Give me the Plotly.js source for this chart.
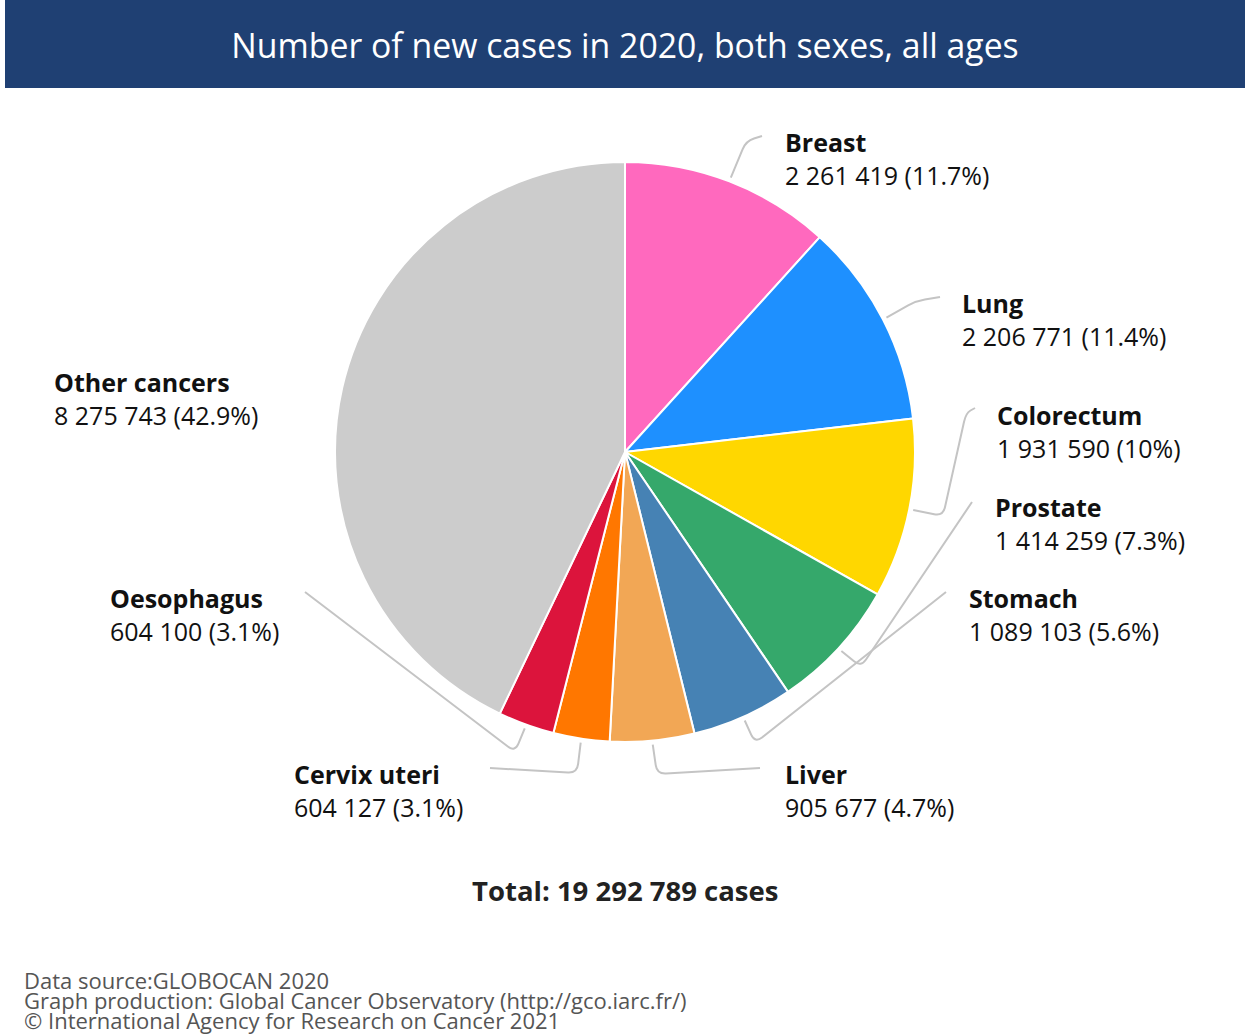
<!DOCTYPE html>
<html>
<head>
<meta charset="utf-8">
<script src="https://cdn.plot.ly/plotly-3.0.1.min.js"></script>
<style>
  html, body { margin: 0; padding: 0; background: #ffffff; }
  #chart { width: 1245px; height: 1036px; }
</style>
</head>
<body>
<div id="chart"></div>
<script>
// ---- Data ----
const labels = ['Breast', 'Lung', 'Colorectum', 'Prostate', 'Stomach', 'Liver', 'Cervix uteri', 'Oesophagus', 'Other cancers'];
const values = [2261419, 2206771, 1931590, 1414259, 1089103, 905677, 604127, 604100, 8275743];
const colors = ['#FF69BE', '#1E90FF', '#FFD700', '#35A86B', '#4682B4', '#F2A755', '#FF7700', '#DC143C', '#CCCCCC'];
const titleText = 'Number of new cases in 2020, both sexes, all ages';
const footerLines = [
  'Data source:GLOBOCAN 2020',
  'Graph production: Global Cancer Observatory (http://gco.iarc.fr/)',
  '\u00A9 International Agency for Research on Cancer 2021'
];

// ---- Layout geometry (pixels) ----
const W = 1245, H = 1036;
const CX = 625, CY = 452, R = 290;
const FONT = '"Open Sans", "Noto Sans", "DejaVu Sans", sans-serif';

// label block positions: [left x, center y] in px
const labelPos = [
  [785, 158], [962, 319], [997, 431], [995, 523], [969, 614],
  [785, 790], [294, 790], [110, 614], [54, 399]
];
// leader waypoints after the computed start point (px); null = no leader
const leaderPts = [
  [[746, 141], [762, 136]],
  [[916, 301], [940, 297]],
  [[943, 516], [966, 413], [975, 408]],
  [[861, 667], [972, 502]],
  [[755, 743], [946, 592]],
  [[657, 774], [760, 768]],
  [[577, 773], [490, 768]],
  [[515, 752], [305, 592]],
  null
];
const footerY = [980, 1000, 1020];

const px = x => x / W;
const py = y => 1 - y / H;
const total = values.reduce((a, b) => a + b, 0);
const fmt = v => String(v).replace(/\B(?=(\d{3})+(?!\d))/g, ' ');
const pct = v => String(parseFloat((100 * v / total).toFixed(1)));

function roundedPath(pts, r) {
  let d = 'M ' + px(pts[0][0]) + ',' + py(pts[0][1]);
  for (let i = 1; i < pts.length; i++) {
    const p = pts[i];
    if (i < pts.length - 1) {
      const a = pts[i - 1], b = pts[i + 1];
      const l1 = Math.hypot(p[0] - a[0], p[1] - a[1]);
      const l2 = Math.hypot(b[0] - p[0], b[1] - p[1]);
      const r1 = Math.min(r, l1 / 2), r2 = Math.min(r, l2 / 2);
      const s = [p[0] - (p[0] - a[0]) * r1 / l1, p[1] - (p[1] - a[1]) * r1 / l1];
      const e = [p[0] + (b[0] - p[0]) * r2 / l2, p[1] + (b[1] - p[1]) * r2 / l2];
      d += ' L ' + px(s[0]) + ',' + py(s[1]);
      d += ' Q ' + px(p[0]) + ',' + py(p[1]) + ' ' + px(e[0]) + ',' + py(e[1]);
    } else {
      d += ' L ' + px(p[0]) + ',' + py(p[1]);
    }
  }
  return d;
}

const shapes = [{
  type: 'rect', xref: 'paper', yref: 'paper', layer: 'below',
  x0: px(5), x1: px(1245), y0: py(0), y1: py(88),
  fillcolor: '#1F4073', line: { width: 0 }
}];
const annotations = [];

let cum = 0;
values.forEach((v, i) => {
  const theta = 2 * Math.PI * (cum + v / 2) / total;
  cum += v;
  if (leaderPts[i]) {
    const start = [CX + (R + 4) * Math.sin(theta), CY - (R + 4) * Math.cos(theta)];
    shapes.push({
      type: 'path', xref: 'paper', yref: 'paper', layer: 'below',
      path: roundedPath([start].concat(leaderPts[i]), 9),
      line: { color: '#C4C4C4', width: 2 }
    });
  }
  annotations.push({
    xref: 'paper', yref: 'paper', x: px(labelPos[i][0] - 2), y: py(labelPos[i][1]),
    xanchor: 'left', yanchor: 'middle', align: 'left', showarrow: false,
    text: '<b>' + labels[i] + '</b><br>' + fmt(v) + ' (' + pct(v) + '%)',
    font: { family: FONT, size: 25, color: '#111111' }
  });
});

annotations.push({
  xref: 'paper', yref: 'paper', x: px(625), y: py(890), xanchor: 'center', yanchor: 'middle',
  showarrow: false, text: '<b>Total: ' + fmt(total) + ' cases</b>',
  font: { family: FONT, size: 27.5, color: '#222222' }
});
footerLines.forEach((t, i) => {
  annotations.push({
    xref: 'paper', yref: 'paper', x: px(22), y: py(footerY[i]), xanchor: 'left', yanchor: 'middle',
    showarrow: false, align: 'left', text: t,
    font: { family: FONT, size: 22, color: '#555555' }
  });
});

const trace = {
  type: 'pie', labels: labels, values: values, sort: false, direction: 'clockwise', rotation: 0,
  marker: { colors: colors, line: { color: '#ffffff', width: 2 } },
  textinfo: 'none', hoverinfo: 'label+value+percent', showlegend: false,
  domain: { x: [px(CX - R), px(CX + R)], y: [py(CY + R), py(CY - R)] }
};

const layout = {
  width: W, height: H, margin: { l: 0, r: 0, t: 0, b: 0 },
  paper_bgcolor: '#ffffff', plot_bgcolor: '#ffffff', showlegend: false,
  title: {
    text: titleText, x: px(625), xanchor: 'center', y: py(46), yanchor: 'middle',
    xref: 'paper', yref: 'paper',
    font: { family: FONT, size: 33.8, color: '#ffffff' }
  },
  shapes: shapes, annotations: annotations
};

Plotly.newPlot('chart', [trace], layout, { displayModeBar: false, staticPlot: true });
</script>
</body>
</html>
